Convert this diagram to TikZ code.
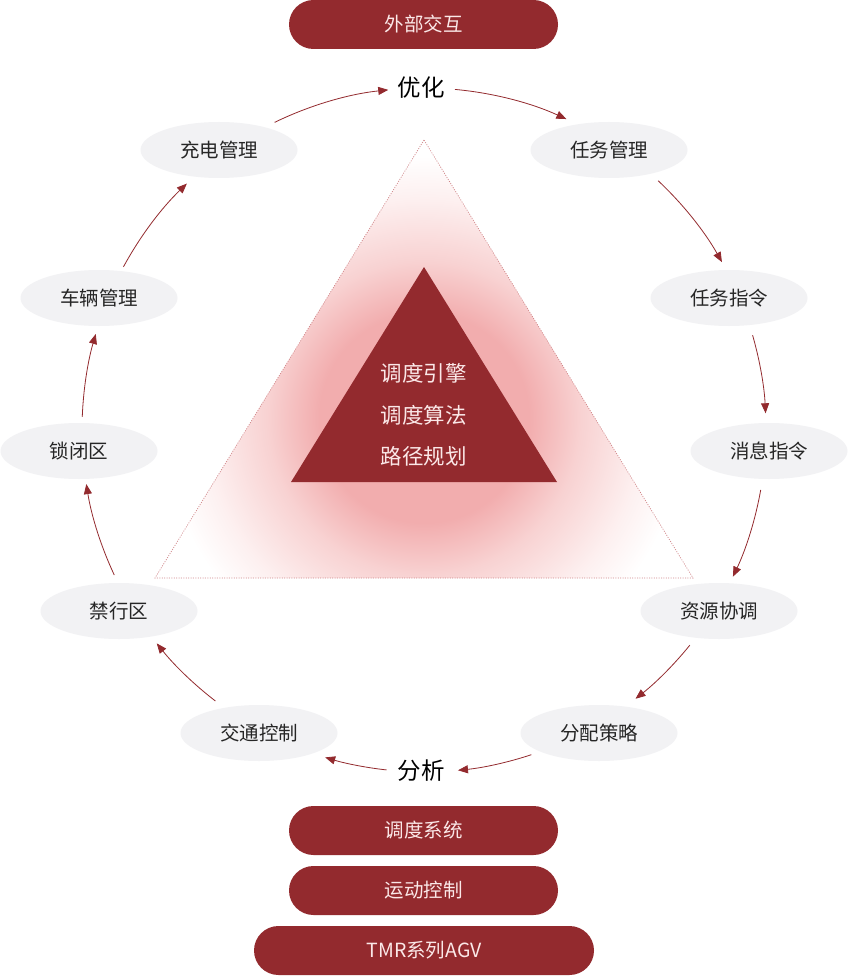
\documentclass[tikz,border=0pt]{standalone}
\usepackage{fontspec}
\setmainfont{Noto Sans CJK SC}
\usetikzlibrary{arrows.meta,shapes.geometric}
\definecolor{brand}{HTML}{932A2E}
\definecolor{ell}{HTML}{F2F2F4}
\definecolor{txt}{HTML}{262626}
\definecolor{pilltxt}{HTML}{FBE8E8}
\definecolor{glowA}{HTML}{F2ADAE}
\definecolor{glowB}{HTML}{F8D2D2}
\definecolor{glowC}{HTML}{FDF0F0}
\definecolor{dotc}{HTML}{D08588}
\pgfdeclareradialshading{glow}{\pgfpoint{0bp}{0bp}}{color(0bp)=(glowA); color(10bp)=(glowA); color(15bp)=(glowB); color(21bp)=(glowC); color(25bp)=(white); color(50bp)=(white)}
\begin{document}
\begin{tikzpicture}[x=1pt,y=1pt,
  pill/.style={fill=brand, rounded corners=24.5pt, minimum height=49pt, inner sep=0pt,
    text=pilltxt, font=\fontsize{19.5}{20}\selectfont},
  bubble/.style={ellipse, fill=ell, minimum width=157pt, minimum height=56pt, inner sep=0pt,
    text=txt, font=\fontsize{19.5}{20}\selectfont},
  keyword/.style={text=black, font=\fontsize{23.5}{24}\selectfont},
  coretext/.style={text=pilltxt, font=\fontsize{21.5}{22}\selectfont},
  arr/.style={draw=brand, line width=0.8pt, -{Triangle[length=10pt,width=8pt]}}]
\fill[white] (0,0) rectangle (848,-976);
\useasboundingbox (0,0) rectangle (848,-976);

% big triangle with glow
\coordinate (T1) at (424,-140);
\coordinate (T2) at (155,-578);
\coordinate (T3) at (693,-578);
\begin{scope}
  \clip (T1) -- (T2) -- (T3) -- cycle;
  \shade[shading=glow] (424,-418) circle[radius=262pt];
\end{scope}
\draw[dotc, line width=0.7pt, dash pattern=on 1pt off 1.4pt] (T1) -- (T2) -- (T3) -- cycle;

% inner triangle
\coordinate (I1) at (424,-267);
\coordinate (I2) at (291,-482);
\coordinate (I3) at (557,-482);
\fill[brand] (I1) -- (I2) -- (I3) -- cycle;
\node[coretext] (c1) at (423.5,-373) {调度引擎};
\node[coretext] (c2) at (423.5,-415) {调度算法};
\node[coretext] (c3) at (423.5,-456) {路径规划};

% pills
\node[pill, minimum width=269pt] (ext) at (423.5,-24.5) {外部交互};
\node[pill, minimum width=269pt] (sys) at (423.5,-830.5) {调度系统};
\node[pill, minimum width=269pt] (mot) at (423.5,-890.5) {运动控制};
\node[pill, minimum width=340pt] (agv) at (424,-950.5) {TMR系列AGV};

% keywords
\node[keyword] (opt) at (421,-87.5) {优化};
\node[keyword] (ana) at (421,-771) {分析};

% bubbles
\node[bubble] (b1) at (219,-150) {充电管理};
\node[bubble] (b2) at (609,-150) {任务管理};
\node[bubble] (b3) at (99,-298) {车辆管理};
\node[bubble] (b4) at (729,-298) {任务指令};
\node[bubble] (b5) at (79,-451) {锁闭区};
\node[bubble] (b6) at (769,-451) {消息指令};
\node[bubble] (b7) at (119,-611) {禁行区};
\node[bubble] (b8) at (719,-611) {资源协调};
\node[bubble] (b9) at (259,-733) {交通控制};
\node[bubble] (b10) at (599,-733) {分配策略};

% circular arrows
\coordinate (O) at (424,-430);
\foreach \a/\b in {115.9/96.0, 84.8/65.4, 46.8/29.4, 16.1/2.8, -10.1/-25.4, -39.0/-51.8,
                   -71.7/-84.3, -96.3/-106.8, -127.6/-141.4, -154.9/-170.9, 177.8/163.7, 151.5/133.9}
  \draw[arr] ([shift={(\a:342pt)}]O) arc[start angle=\a, end angle=\b, radius=342pt];
\end{tikzpicture}
\end{document}
